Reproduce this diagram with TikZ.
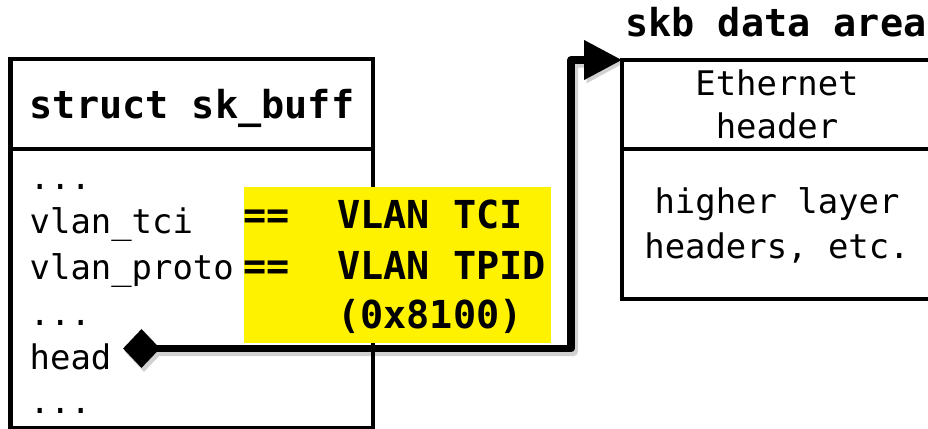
\documentclass[tikz,border=0pt]{standalone}
\usepackage{fontspec}
\setmainfont{DejaVu Sans Mono}
\usetikzlibrary{arrows.meta,shapes.geometric}

\begin{document}
\begin{tikzpicture}[x=1pt,y=-1pt,
  frame/.style={draw=black, line width=4.5pt, inner sep=0pt, outer sep=0pt},
  rule/.style={draw=black, line width=4.5pt},
  fieldtxt/.style={font=\fontsize{33.9}{45}\selectfont, inner sep=0pt, anchor=base west},
  celltxt/.style={font=\fontsize{33.9}{45}\selectfont, inner sep=0pt, anchor=base},
  titletxt/.style={font=\fontsize{38.5}{46}\selectfont\bfseries, inner sep=0pt},
  hilite/.style={font=\fontsize{38.5}{46}\selectfont\bfseries, inner sep=0pt, anchor=base west},
  note/.style={fill=yellow, inner sep=0pt, outer sep=0pt, anchor=north west},
  pointer/.style={line width=7.5pt, line join=round, draw=black,
    -{Triangle[length=38pt,width=38pt]}},
  pointershade/.style={line width=9pt, line join=round, draw=black,
    -{Triangle[length=38pt,width=38pt]}},
  knob/.style={diamond, fill=black, minimum width=37pt, minimum height=39pt, inner sep=0pt}
]
\useasboundingbox (0,0) rectangle (928,428);
\clip (0,0) rectangle (928,428);

% struct sk_buff
\node[frame, minimum width=362.5pt, minimum height=369pt] (skb) at (191.75,243.5) {};
\draw[rule] (skb.west |- 0,149) -- (skb.east |- 0,149);
\node[titletxt, anchor=base] (skbtitle) at (192,118) {struct sk\_buff};
\node[fieldtxt] (f1) at (29.5,189.5) {...};
\node[fieldtxt] (f2) at (29.5,233) {vlan\_tci};
\node[fieldtxt] (f3) at (29.5,279.5) {vlan\_proto};
\node[fieldtxt] (f4) at (29.5,325) {...};
\node[fieldtxt] (f5) at (29.5,369.5) {head};
\node[fieldtxt] (f6) at (29.5,413.5) {...};

% packet data area
\node[frame, minimum width=310pt, minimum height=239pt] (data) at (777,179.5) {};
\draw[rule] (data.west |- 0,149) -- (data.east |- 0,149);
\node[titletxt, anchor=base west] (datatitle) at (625,37) {skb data area};
\node[celltxt] (eth1) at (777,95) {Ethernet};
\node[celltxt] (eth2) at (777,138) {header};
\node[celltxt] (hl1) at (777,213) {higher layer};
\node[celltxt] (hl2) at (777,258) {headers, etc.};

% highlighted VLAN values
\node[note, minimum width=307pt, minimum height=156pt] (tag) at (244,187) {};
\node[hilite] (eq1) at (243,228) {==};
\node[hilite] (eq2) at (243,279) {==};
\node[hilite] (v1) at (337,228) {VLAN TCI};
\node[hilite] (v2) at (337,279) {VLAN TPID};
\node[hilite] (v3) at (337,328) {(0x8100)};

% head pointer into the data area
\coordinate (hook) at (141.5,348.5);
\coordinate (riser) at (571,60);
\begin{scope}[transform canvas={shift={(2.5,3)}}, opacity=0.18, transparency group]
  \draw[pointershade] (hook) -| (riser) -- (data.north west);
  \node[knob, minimum width=39pt, minimum height=41pt] at (hook) {};
\end{scope}
\draw[pointer] (hook) -| (riser) -- (data.north west);
\node[knob] (ptr) at (hook) {};
\end{tikzpicture}
\end{document}
